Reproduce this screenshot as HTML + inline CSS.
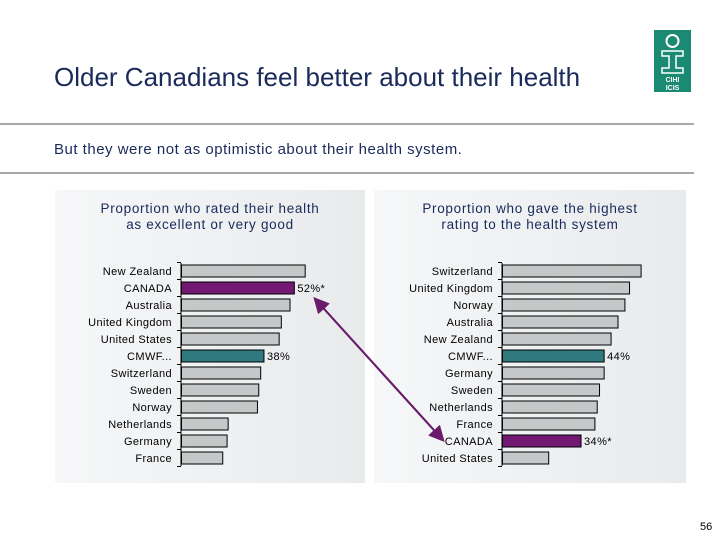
<!DOCTYPE html>
<html><head><meta charset="utf-8"><style>
body{margin:0;width:720px;height:540px;background:#fff;font-family:"Liberation Sans",sans-serif;position:relative;overflow:hidden}
.a{position:absolute}
</style></head><body>
<div class="a" style="left:54px;top:62px;font-size:26px;color:#1a2a5a;white-space:nowrap">Older Canadians feel better about their health</div>
<div class="a" style="left:654px;top:30px;width:37px;height:62px;background:#1a8a72">
<svg width="37" height="62"><circle cx="18.5" cy="11" r="6" fill="none" stroke="#fff" stroke-width="2"/><path d="M8 21h21v5h-7v12h7v5H8v-5h7V26H8z" fill="none" stroke="#fff" stroke-width="1.5"/><text x="18.5" y="52" font-size="7" fill="#fff" text-anchor="middle" font-family="Liberation Sans" font-weight="bold">CIHI</text><text x="18.5" y="60" font-size="7" fill="#fff" text-anchor="middle" font-family="Liberation Sans" font-weight="bold">ICIS</text></svg></div>
<div class="a" style="left:0;top:123px;width:694px;height:2px;background:#a8a8a8"></div>
<div class="a" style="left:54px;top:141px;font-size:15px;letter-spacing:0.5px;color:#1a2a5a;white-space:nowrap">But they were not as optimistic about their health system.</div>
<div class="a" style="left:0;top:172px;width:694px;height:2px;background:#a8a8a8"></div>
<div class="a" style="left:55px;top:190px;width:310px;height:293px;background:linear-gradient(90deg,#f6f7f8,#e8eaec)"></div>
<div class="a" style="left:374px;top:190px;width:312px;height:293px;background:linear-gradient(90deg,#f6f7f8,#e8eaec)"></div>
<div class="a" style="left:60px;top:201px;width:300px;text-align:center;font-size:13.5px;letter-spacing:0.7px;line-height:16px;color:#1a2a5a">Proportion who rated their health<br>as excellent or very good</div>
<div class="a" style="left:380px;top:201px;width:300px;text-align:center;font-size:13.5px;letter-spacing:0.7px;line-height:16px;color:#1a2a5a">Proportion who gave the highest<br>rating to the health system</div>
<svg class="a" style="left:0;top:0" width="720" height="540" id="svg">
<defs><marker id="ah" markerWidth="8" markerHeight="8" refX="6" refY="4" orient="auto"><path d="M0,0L8,4L0,8z" fill="#6a1b6a"/></marker></defs>
</svg>
<div class="a" style="left:700px;top:521px;font-size:11px">56</div>
<script>
const leftCats=["New Zealand","CANADA","Australia","United Kingdom","United States","CMWF...","Switzerland","Sweden","Norway","Netherlands","Germany","France"];
const leftVals=[57,52,50,46,45,38,36.5,35.6,35,21.5,21,19];
const leftLabels=["","52%*","","","","38%","","","","","",""];
const rightCats=["Switzerland","United Kingdom","Norway","Australia","New Zealand","CMWF...","Germany","Sweden","Netherlands","France","CANADA","United States"];
const rightVals=[60,55,53,50,47,44,44,42,41,40,34,20];
const rightLabels=["","","","","","44%","","","","","34%*",""];
const NS="http://www.w3.org/2000/svg";
const svg=document.getElementById('svg');
function mk(t,a){const e=document.createElementNS(NS,t);for(const k in a)e.setAttribute(k,a[k]);svg.appendChild(e);return e;}
function chart(cats,vals,labels,x0,scale,side){
  const y=i=>271+i*17;
  const ax=mk('line',{x1:x0,y1:263,x2:x0,y2:466,stroke:'#000','stroke-width':1});
  
  
  cats.forEach((c,i)=>{
    const col=c==="CANADA"?'#731873':(c==="CMWF..."?'#2e7a7e':'#c6c7c9');
    mk('line',{x1:x0-4,y1:y(i)-8.5,x2:x0,y2:y(i)-8.5,stroke:'#000'});
    const r=mk('rect',{x:x0+0.5,y:y(i)-6,width:vals[i]*scale,height:12,fill:col,stroke:'#000','stroke-width':1});
    
    
    const t=mk('text',{x:x0-9,y:y(i)+4,'text-anchor':'end','font-size':11,'letter-spacing':0.4,'font-family':'Liberation Sans',fill:'#000'});
    t.textContent=c;
    
    
    if(labels[i]){const v=mk('text',{x:x0+0.5+vals[i]*scale+3,y:y(i)+4,'font-size':11,'letter-spacing':0.4,'font-family':'Liberation Sans',fill:'#000'});v.textContent=labels[i];
      
      }
  });
  mk('line',{x1:x0-4,y1:y(cats.length-1)+8.5,x2:x0,y2:y(cats.length-1)+8.5,stroke:'#000'});
}
chart(leftCats,leftVals,leftLabels,181,2.17,'left');
chart(rightCats,rightVals,rightLabels,502,2.31,'right');
const ar=mk('line',{x1:442,y1:439,x2:316,y2:300,stroke:'#6a1b6a','stroke-width':2,'marker-end':'url(#ah)'});


const ar2=mk('line',{x1:316,y1:300,x2:442,y2:439,stroke:'#6a1b6a','stroke-width':2,'marker-end':'url(#ah)'});


</script>
</body></html>
